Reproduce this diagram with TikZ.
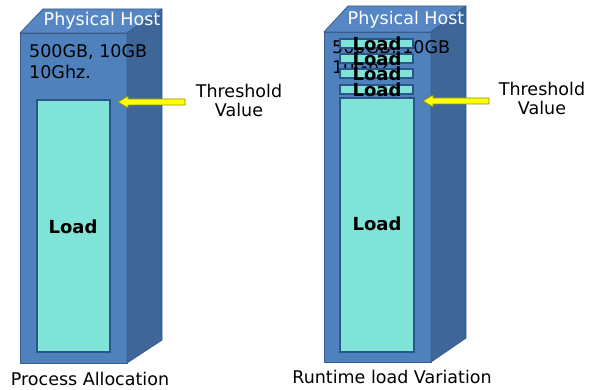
\documentclass[tikz,border=0pt]{standalone}
\usepackage{fontspec}
\setmainfont{DejaVu Sans}
\definecolor{frontblue}{HTML}{4F81BD}
\definecolor{sideblue}{HTML}{3F6699}
\definecolor{topblue}{HTML}{5687C4}
\definecolor{edgeblue}{HTML}{385D8A}
\definecolor{loadfill}{HTML}{7FE3D7}
\definecolor{loadedge}{HTML}{2B5487}
\definecolor{arrowedge}{HTML}{8E8E20}
\definecolor{arrowfill}{HTML}{FFFF00}
\begin{document}
\begin{tikzpicture}[x=1pt,y=-1pt,
  face/.style={draw=edgeblue,line width=0.8pt,line join=round},
  loadbox/.style={draw=loadedge,fill=loadfill,line width=1.2pt},
  txt/.style={font=\fontsize{17.5}{19}\selectfont,inner sep=0pt},
  hosttxt/.style={txt,text=white},
  loadtxt/.style={font=\fontsize{18}{19}\selectfont\bfseries,inner sep=0pt},
  yarrow/.style={draw=arrowedge,fill=arrowfill,line width=0.8pt,line join=miter}]
\useasboundingbox (0,0) rectangle (589,390);
\fill[white] (0,0) rectangle (589,390);

% ---------- left host ----------
\draw[face,fill=frontblue] (20,33) rectangle (127,363);
\draw[face,fill=topblue] (20,33) -- (43,9) -- (162,9) -- (127,33) -- cycle;
\draw[face,fill=sideblue] (127,33) -- (162,9) -- (162,340) -- (127,363) -- cycle;
\node[hosttxt] (h1) at (102,21) {Physical Host};
\node[txt,anchor=west] (s1) at (29,52) {500GB, 10GB};
\node[txt,anchor=west] (g1) at (29,72) {10Ghz.};
\draw[loadbox] (37,100) rectangle (110,352);
\node[loadtxt] (l1) at (73,227) {Load};
\draw[yarrow] (118,102) -- (128,96) -- (128,99) -- (185,99) -- (185,105) -- (128,105) -- (128,108) -- cycle;
\node[txt,align=center] (t1) at (239,100) {Threshold\\Value};
\node[txt] (c1) at (90,379) {Process Allocation};

% ---------- right host ----------
\draw[face,fill=frontblue] (324,32) rectangle (431,362);
\draw[face,fill=topblue] (324,32) -- (348,6) -- (466,6) -- (431,32) -- cycle;
\draw[face,fill=sideblue] (431,32) -- (466,6) -- (466,338) -- (431,362) -- cycle;
\node[hosttxt] (h2) at (406,20) {Physical Host};
\node[txt,anchor=west] (s2) at (332,48) {500GB, 10GB};
\node[txt,anchor=west] (g2) at (332,67) {10Ghz.};
\draw[loadbox] (340,98) rectangle (414,352);
\draw[loadbox] (340,39) rectangle (413,48);
\draw[loadbox] (340,54) rectangle (413,63);
\draw[loadbox] (340,69) rectangle (413,78);
\draw[loadbox] (340,85) rectangle (413,94);
\node[loadtxt] (la) at (377,44) {Load};
\node[loadtxt] (lb) at (377,59) {Load};
\node[loadtxt] (lc) at (377,74) {Load};
\node[loadtxt] (ld) at (377,90) {Load};
\node[loadtxt] (l2) at (377,224) {Load};
\draw[yarrow] (423,101) -- (433,95) -- (433,98) -- (489,98) -- (489,104) -- (433,104) -- (433,107) -- cycle;
\node[txt,align=center] (t2) at (542,98) {Threshold\\Value};
\node[txt] (c2) at (392,377) {Runtime load Variation};
\end{tikzpicture}
\end{document}
